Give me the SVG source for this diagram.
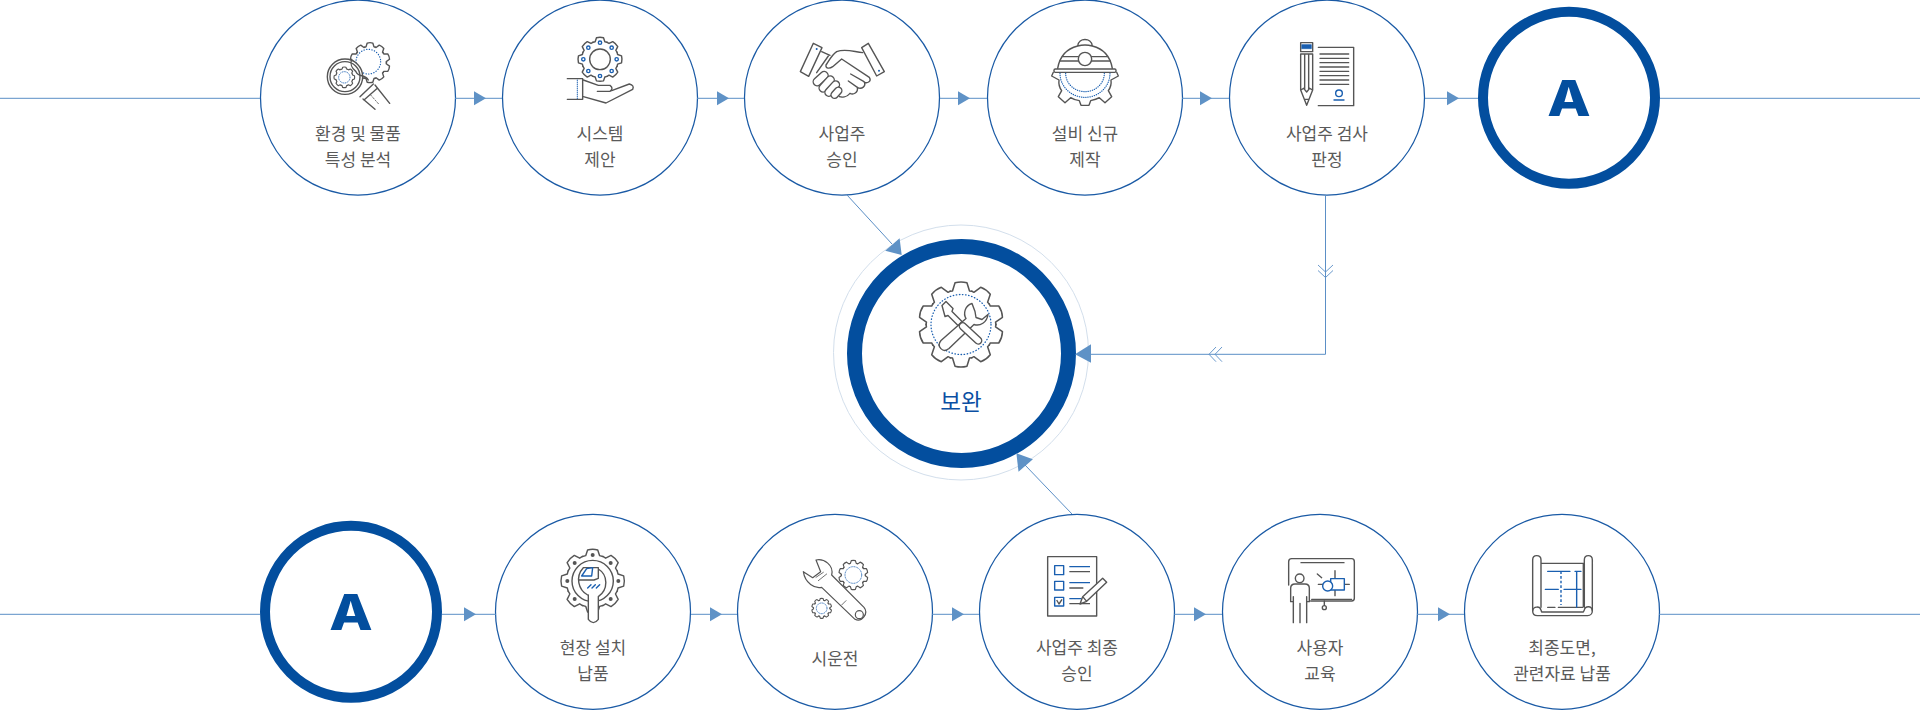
<svg xmlns="http://www.w3.org/2000/svg" xmlns:xlink="http://www.w3.org/1999/xlink" width="1920" height="710" viewBox="0 0 1920 710">
<style>
text{font-family:"Noto Sans CJK KR","Noto Sans",sans-serif;text-anchor:middle}
.t{font-size:17px;fill:#5a5a5a}
.n{fill:#fff;stroke:#1a5aa5;stroke-width:1.25}
.r{fill:#fff;stroke:#034e9e;stroke-width:10}
.a{font-family:"Inter","Liberation Sans",sans-serif;font-weight:800;font-size:50px;fill:#034e9e}
.i{fill:none;stroke:#555;stroke-width:4.2;stroke-linejoin:round;stroke-linecap:round}
.w{fill:#fff}
.b{stroke:#1a5fb0}
.d{stroke:#1a5fb0;stroke-dasharray:1 7;stroke-width:3.6}
.bd{fill:#1a5fb0;stroke:none}
.c{fill:none;stroke:#5b8fc6;stroke-width:1}
.h{fill:#5f92c6}
.v{fill:none;stroke:#5b8fc6;stroke-width:.9}
</style>
<defs>
<polygon id="tri" points="0,-7 12,0 0,7"/>
<path id="t8" d="M-.32-.775L-.22-.8-.16-.98Q0-1.02.16-.98L.22-.8.32-.775" />
<g id="g8"><use xlink:href="#t8"/><use xlink:href="#t8" transform="rotate(45)"/><use xlink:href="#t8" transform="rotate(90)"/><use xlink:href="#t8" transform="rotate(135)"/><use xlink:href="#t8" transform="rotate(180)"/><use xlink:href="#t8" transform="rotate(225)"/><use xlink:href="#t8" transform="rotate(270)"/><use xlink:href="#t8" transform="rotate(315)"/></g>
<path id="t10" d="M-.26-.78L-.2-.79-.14-.98Q0-1.02.14-.98L.2-.79.26-.78"/>
<g id="g10"><use xlink:href="#t10"/><use xlink:href="#t10" transform="rotate(36)"/><use xlink:href="#t10" transform="rotate(72)"/><use xlink:href="#t10" transform="rotate(108)"/><use xlink:href="#t10" transform="rotate(144)"/><use xlink:href="#t10" transform="rotate(180)"/><use xlink:href="#t10" transform="rotate(216)"/><use xlink:href="#t10" transform="rotate(252)"/><use xlink:href="#t10" transform="rotate(288)"/><use xlink:href="#t10" transform="rotate(324)"/></g>
</defs>

<g id="node-1">
<circle class="n" cx="358" cy="97.5" r="97.5"/>
<g class="i" transform="translate(240 0) scale(.33333)">
<g transform="translate(390 188) scale(60)"><use xlink:href="#g10" style="stroke-width:.07"/></g>
<circle class="d" cx="385" cy="185" r="37"/>
<path d="M360 290L400 252M372 300L412 265M405 255L449 310M369 297L405 328"/>
<path d="M392 285L416 312" style="stroke-width:2.5;stroke-dasharray:5 5"/>
<circle class="w" cx="315" cy="230" r="53"/>
<circle cx="315" cy="230" r="45"/>
<path d="M335 178C330 190 335 205 348 215 355 232 375 222 385 240"/>
<g transform="translate(313 232) scale(31)"><use xlink:href="#g8" style="stroke-width:.11"/></g>
<circle class="d" cx="313" cy="232" r="17" style="stroke-dasharray:1 4.5;stroke-width:2.8"/>
</g>
<text class="t" x="358" y="140">환경 및 물품</text>
<text class="t" x="358" y="166">특성 분석</text>
</g>

<g id="node-2">
<circle class="n" cx="600" cy="97.5" r="97.5"/>
<g class="i" transform="translate(240 0) scale(.33333)">
<g transform="translate(1080 178) scale(66)"><use xlink:href="#g8" style="stroke-width:.065"/></g>
<circle cx="1080" cy="178" r="31"/>
<g class="b"><circle cx="1080" cy="128" r="5"/><circle cx="1115" cy="143" r="5"/><circle cx="1130" cy="178" r="5"/><circle cx="1115" cy="213" r="5"/><circle cx="1080" cy="228" r="5"/><circle cx="1045" cy="213" r="5"/><circle cx="1030" cy="178" r="5"/><circle cx="1045" cy="143" r="5"/></g>
<path d="M982 236H1028V298H982"/>
<path class="d" d="M1012 240V296" style="stroke-dasharray:1 5"/>
<path d="M1030 240L1075 256H1110Q1122 265 1110 274H1072M1115 272L1168 252Q1184 256 1178 268L1098 309 1030 290"/>
</g>
<text class="t" x="600" y="140">시스템</text>
<text class="t" x="600" y="166">제안</text>
</g>

<g id="node-3">
<circle class="n" cx="842" cy="97.5" r="97.5"/>
<g class="i" transform="translate(720 0) scale(.33333)">
<path d="M280 130L306 143 266 229 241 215ZM445 130L425 143 470 228 493 215Z"/>
<path d="M305 155L330 166M428 158C400 155 375 145 350 155 335 165 325 185 318 195 316 207 330 206 338 200L365 177 448 232C456 245 440 252 432 245L392 222M432 245C440 258 425 270 412 262L385 243M412 262C415 278 400 285 390 280 380 292 365 292 358 290"/>
<path d="M325 168L290 218"/>
<rect class="w" x="276" y="224" width="52" height="24" rx="12" transform="rotate(-42 302 236)"/>
<rect class="w" x="292" y="240" width="56" height="24" rx="12" transform="rotate(-48 320 252)"/>
<rect class="w" x="310" y="254" width="54" height="23" rx="11.5" transform="rotate(-48 337 266)"/>
<rect class="w" x="330" y="268" width="38" height="21" rx="10.5" transform="rotate(-48 349 278)"/>
<circle class="bd" cx="290" cy="147" r="3"/><circle class="bd" cx="477" cy="212" r="3"/>
</g>
<text class="t" x="842" y="140">사업주</text>
<text class="t" x="842" y="166">승인</text>
</g>

<g id="node-4">
<circle class="n" cx="1085" cy="97.5" r="97.5"/>
<g class="i" transform="translate(720 0) scale(.33333)">
<path d="M1073 138C1076 112 1114 112 1117 138M1013 205C1020 165 1045 145 1073 138 1088 134 1102 134 1117 138 1145 145 1170 165 1177 205"/>
<rect x="1002" y="207" width="186" height="10" rx="4"/>
<path d="M1028 170H1075M1115 170H1162M1020 183H1075M1115 183H1170"/>
<circle class="w" cx="1095" cy="177" r="20"/>
<path d="M1000 217L995 228 1017 240C1015 255 1020 265 1025 272L1015 290 1035 308 1052 293C1060 298 1068 301 1078 302L1083 316H1107L1112 302C1122 300 1130 298 1138 293L1155 308 1175 290 1165 272C1170 265 1175 255 1173 240L1195 228 1190 217"/>
<path class="d" d="M1020 220A75 72 0 0 0 1170 220M1037 220A58 55 0 0 0 1153 220" style="stroke-dasharray:1 5.5"/>
</g>
<text class="t" x="1085" y="140">설비 신규</text>
<text class="t" x="1085" y="166">제작</text>
</g>

<g id="node-5">
<circle class="n" cx="1327" cy="97.5" r="97.5"/>
<g class="i" transform="translate(1200 0) scale(.33333)">
<rect x="302" y="128" width="36" height="27"/>
<path class="b" d="M306 134H334V146H306Z" style="fill:#1a5fb0;stroke-width:2"/>
<path d="M302 162H338V270L320 316 302 270ZM314 162V268M326 162V268M302 270L311 265 320 276 329 265 338 270M313 298H327"/>
<path d="M355 142H461V317H355M360 162H446M360 175H446M360 188H446M360 201H446M360 214H446M360 227H446M360 240H446M360 253H446"/>
<circle class="b" cx="417" cy="280" r="10"/><path class="b" d="M402 300H432"/>
</g>
<text class="t" x="1327" y="140">사업주 검사</text>
<text class="t" x="1327" y="166">판정</text>
</g>

<g id="node-a1">
<circle class="r" cx="1569" cy="97.8" r="86"/>
<text class="a" transform="translate(1569 115.5) scale(1.13 1)">A</text>
</g>

<g id="node-main">
<circle cx="961" cy="352.5" r="127.5" fill="none" stroke="#d3dfec" stroke-width="1"/>
<circle cx="961.5" cy="353.5" r="107" fill="#fff" stroke="#034e9e" stroke-width="15"/>
<g class="i" transform="translate(961 324.5)">
<g transform="scale(42.5)"><use xlink:href="#g10" style="stroke-width:.036"/></g>
<circle class="d" r="30" style="stroke-width:1.3;stroke-dasharray:.5 2.6"/>
<g style="stroke-width:1.4">
<path class="w" d="M11-21C4-19 2-11 5-6L-20 16C-25 22-18 29-12 24L13 0C19 2 26-2 27-10L21-5 15-7 14-13Z"/>
<path class="w" d="M-19-19L-15-23-8-16-9-13 1-3-3 1-13-9-16-8Z"/>
<rect class="w" x="-1" y="-3.5" width="28" height="7" rx="3.5" transform="rotate(43)"/>
</g>
</g>
<text x="961" y="410" style="font-size:22.5px;fill:#0a4fa3">보완</text>
</g>

<g id="node-a2">
<circle class="r" cx="351" cy="611.8" r="86"/>
<text class="a" transform="translate(351 629.5) scale(1.13 1)">A</text>
</g>

<g id="node-6">
<circle class="n" cx="593" cy="611.8" r="97.5"/>
<g class="i" transform="translate(240 500) scale(.33333)">
<g transform="translate(1058 243) scale(95)"><use xlink:href="#g8" style="stroke-width:.045"/></g>
<circle cx="1058" cy="243" r="62"/>
<g style="fill:#555;stroke:none"><circle cx="982" cy="243" r="6"/><circle cx="1135" cy="243" r="6"/><circle cx="1004" cy="189" r="6"/><circle cx="1112" cy="189" r="6"/><circle cx="1004" cy="297" r="6"/><circle cx="1112" cy="297" r="6"/><circle cx="1058" cy="165" r="6"/></g>
<path class="w" d="M1043 285C1015 270 1005 230 1030 203L1075 203V235L1062 240H1018M1075 207C1105 225 1105 270 1075 290V358Q1060 378 1045 358V285"/>
<path class="b" d="M1025 228L1040 206 1058 203 1055 228ZM1043 264L1053 254M1056 264L1066 254M1069 264L1079 254"/>
</g>
<text class="t" x="593" y="654">현장 설치</text>
<text class="t" x="593" y="680">납품</text>
</g>

<g id="node-7">
<circle class="n" cx="835" cy="611.8" r="97.5"/>
<g class="i" transform="translate(720 500) scale(.33333)" style="stroke-width:3.6">
<path d="M288 180C312 175 342 195 335 225L432 322C447 340 425 368 405 358L305 262C285 267 255 250 250 215L278 233 302 215Z"/>
<circle cx="418" cy="344" r="12"/>
<path d="M288 232L310 217M295 242L320 222M365 315L378 302" style="stroke-width:2.5"/>
<g transform="translate(400 225) scale(44)"><use xlink:href="#g10" style="stroke-width:.08"/></g>
<circle class="d" cx="400" cy="225" r="25" style="stroke-dasharray:1 4;stroke-width:2.5"/>
<g transform="translate(305 325) scale(30)"><use xlink:href="#g10" style="stroke-width:.11"/></g>
<circle class="d" cx="305" cy="325" r="16" style="stroke-dasharray:1 4;stroke-width:2.5"/>
</g>
<text class="t" x="835" y="665">시운전</text>
</g>

<g id="node-8">
<circle class="n" cx="1077" cy="611.8" r="97.5"/>
<g class="i" transform="translate(720 500) scale(.33333)" style="stroke-linecap:butt">
<rect x="983" y="170" width="147" height="178"/>
<g class="b"><rect x="1004" y="197" width="27" height="27"/><rect x="1004" y="244" width="27" height="26"/><rect x="1004" y="292" width="27" height="26"/><path d="M1048 200H1110M1048 248H1110M1048 296H1085"/></g>
<path d="M1048 215H1110M1048 264H1090M1048 311H1110M1010 300L1017 312 1026 298"/>
<path class="w" d="M1080 312L1088 290 1148 235 1160 247 1100 304ZM1088 290L1100 304"/>
</g>
<text class="t" x="1077" y="654">사업주 최종</text>
<text class="t" x="1077" y="680">승인</text>
</g>

<g id="node-9">
<circle class="n" cx="1320" cy="611.8" r="97.5"/>
<g class="i" transform="translate(1200 500) scale(.33333)">
<path d="M266 255V185Q266 176 275 176H455Q463 176 463 185V295Q463 303 455 303H332"/>
<path d="M303 188H432M335 298H455M373 303V316"/>
<circle cx="373" cy="323" r="6"/>
<circle cx="299" cy="235" r="13"/>
<path d="M272 305V265Q272 252 285 252H315Q328 252 328 265V305M272 305H280M320 305H328M280 290V368M300 310V368M320 290V368"/>
<path d="M355 253H448M405 212V287M352 222L365 233" />
<g class="b"><rect x="392" y="236" width="41" height="34" style="fill:#fff"/><circle class="w" cx="383" cy="258" r="15"/></g>
</g>
<text class="t" x="1320" y="654">사용자</text>
<text class="t" x="1320" y="680">교육</text>
</g>

<g id="node-10">
<circle class="n" cx="1562" cy="611.8" r="97.5"/>
<g class="i" transform="translate(1200 500) scale(.33333)">
<path d="M998 332V180Q998 167 1010 167 1023 167 1023 180V322M1153 322V180Q1153 167 1165 167 1177 167 1177 180V332M1023 190H1153M1150 190V320"/>
<path d="M998 332C998 340 1002 347 1012 347H1163C1172 347 1177 340 1177 332 1175 315 1155 318 1153 330L1150 336H1025L1023 330C1020 318 1000 318 998 332Z"/>
<path d="M1043 322H1065M1075 322H1148"/>
<g class="b"><path d="M1043 214H1110M1125 214H1143M1036 268H1075M1092 268H1143M1130 214V322"/><path d="M1083 214V315" style="stroke-dasharray:8 6;stroke-linecap:butt"/></g>
</g>
<text class="t" x="1562" y="654">최종도면,</text>
<text class="t" x="1562" y="680">관련자료 납품</text>
</g>

<g id="connectors">
<path class="c" d="M0 98.3H260M455 98.3H502M697 98.3H744M940 98.3H987M1182 98.3H1229M1425 98.3H1478M1660 98.3H1920"/>
<path class="c" d="M0 614.3H260M442 614.3H496M691 614.3H737M932 614.3H979M1174 614.3H1222M1417 614.3H1464M1659 614.3H1920"/>
<g class="h">
<use xlink:href="#tri" x="474" y="98.3"/><use xlink:href="#tri" x="717" y="98.3"/><use xlink:href="#tri" x="958" y="98.3"/><use xlink:href="#tri" x="1200" y="98.3"/><use xlink:href="#tri" x="1447" y="98.3"/>
<use xlink:href="#tri" x="464" y="614.3"/><use xlink:href="#tri" x="710" y="614.3"/><use xlink:href="#tri" x="952" y="614.3"/><use xlink:href="#tri" x="1194" y="614.3"/><use xlink:href="#tri" x="1438" y="614.3"/>
<polygon points="899.6,238.3 885.2,250.7 901.7,255"/>
<polygon points="1075,354.3 1091,344.3 1091,362.7"/>
<polygon points="1016.4,453.3 1018.5,471.7 1032.9,459.3"/>
</g>
<path class="c" d="M847 195L892 244M1072 514L1025 465M1325.5 195V354.3H1091"/>
<path class="v" d="M1318 265L1325.5 272 1333 265M1318 270.5L1325.5 277.5 1333 270.5M1216 347L1209 354.3 1216 361.7M1222 347L1215 354.3 1222 361.7"/>
</g>
</svg>
